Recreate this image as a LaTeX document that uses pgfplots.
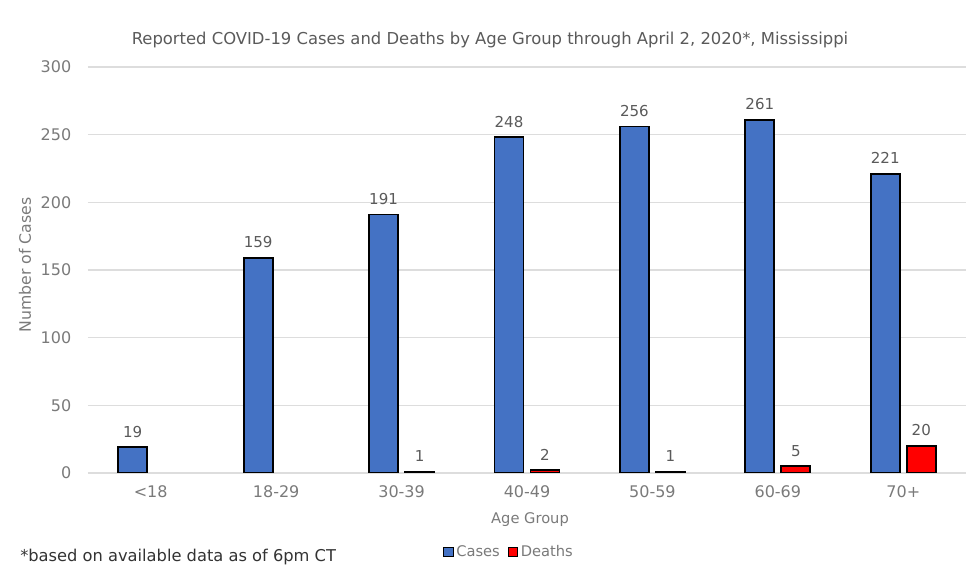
\documentclass[border=0pt]{standalone}
\usepackage{fontspec}
\setmainfont{DejaVu Sans}
\usepackage{pgfplots}
\pgfplotsset{compat=1.18}
\definecolor{casesblue}{HTML}{4472C4}
\definecolor{deathred}{HTML}{FF0000}
\definecolor{txt}{HTML}{7A7A7A}
\definecolor{lbl}{HTML}{5A5A5A}
\definecolor{gridc}{HTML}{DDDDDD}
\begin{document}
\begin{tikzpicture}
\path[use as bounding box] (-66pt,-80.25pt) rectangle (669pt,354.75pt);
\begin{axis}[
  at={(0,0)}, anchor=south west,
  scale only axis, width=658.5pt, height=304.5pt,
  xmin=-0.5, xmax=6.5, ymin=0, ymax=300,
  ytick={0,50,...,300},
  xtick={0,...,6},
  xticklabels={<18,18-29,30-39,40-49,50-59,60-69,70+},
  ymajorgrids, grid style={gridc, line width=0.9pt},
  axis line style={draw=none},
  major tick length=0pt,
  tick label style={font=\fontsize{12}{14}\selectfont, text=txt},
  /pgf/number format/assume math mode=true,
  yticklabel style={xshift=-9pt},
  xticklabel style={yshift=-6pt},
  ybar=5.25pt, bar width=21.75pt,
  nodes near coords,
  nodes near coords style={font=\fontsize{11.3}{13}\selectfont, text=lbl, yshift=3.5pt},
  legend style={at={(rel axis cs:0.48,-0.195)}, anchor=center, draw=none,
    legend columns=2, font=\fontsize{11}{12}\selectfont, text=txt,
    /tikz/every even column/.append style={column sep=4pt}},
  legend image code/.code={\draw[#1, line width=0.7pt] (0pt,-3.5pt) rectangle (7pt,3.5pt);},
]
\addplot[fill=casesblue, draw=black, line width=1.3pt] coordinates {
  (0,19) (1,159) (2,191) (3,248) (4,256) (5,261) (6,221)};
\addplot[fill=deathred, draw=black, line width=1.3pt] coordinates {
  (2,1) (3,2) (4,1) (5,5) (6,20)};
\legend{Cases,Deaths}
\end{axis}
\node[font=\fontsize{12.3}{14}\selectfont, text=lbl] at (301.5pt,324.75pt)
  {Reported COVID-19 Cases and Deaths by Age Group through April 2, 2020*, Mississippi};
\node[font=\fontsize{11.8}{13}\selectfont, text=txt, rotate=90] at (-47.25pt,156pt) {Number of Cases};
\node[font=\fontsize{11}{13}\selectfont, text=txt] at (331.5pt,-35.25pt) {Age Group};
\node[font=\fontsize{12.2}{14}\selectfont, text=black!80, anchor=west, inner sep=0pt] at (-51pt,-63pt)
  {*based on available data as of 6pm CT};
\end{tikzpicture}
\end{document}
